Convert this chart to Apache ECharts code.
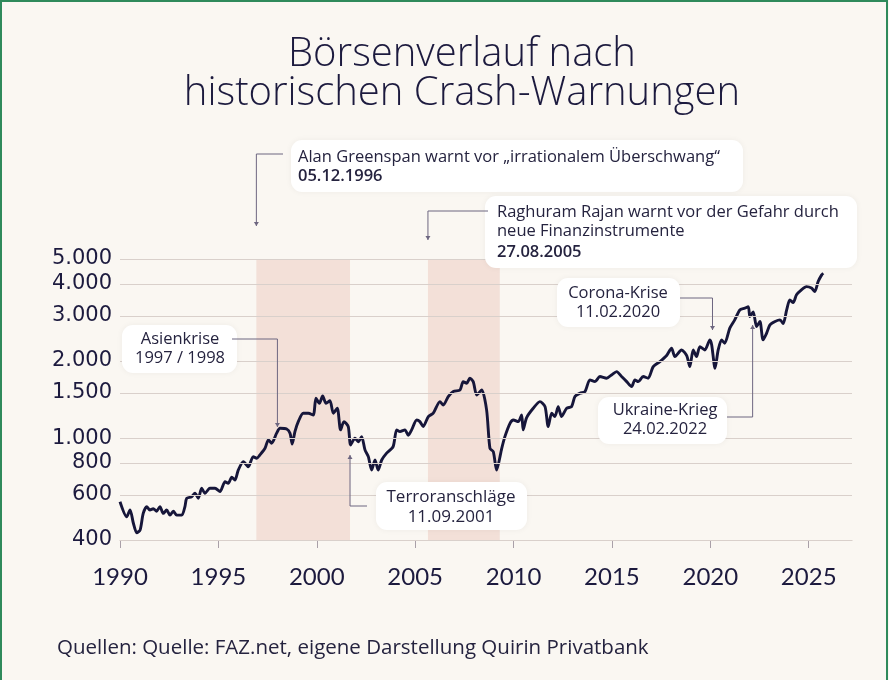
<!DOCTYPE html>
<html><head><meta charset="utf-8">
<script src="https://cdn.jsdelivr.net/npm/echarts@6/dist/echarts.min.js"></script>
<style>
html,body{margin:0;padding:0;background:#faf7f2;}
#c{width:889px;height:680px;}
</style></head><body><div id="c"></div>
<script>
// ---- data ----
const years = [1990.00,1990.34,1990.51,1990.68,1990.85,1991.02,1991.18,1991.36,1991.52,1991.69,1991.86,1992.03,1992.20,1992.37,1992.54,1992.71,1992.88,1993.14,1993.30,1993.39,1993.64,1993.81,1993.98,1994.15,1994.32,1994.57,1994.83,1995.08,1995.34,1995.50,1995.68,1995.84,1996.01,1996.27,1996.52,1996.77,1996.95,1997.11,1997.37,1997.54,1997.71,1997.96,1998.13,1998.47,1998.64,1998.75,1998.89,1999.06,1999.31,1999.57,1999.82,1999.96,2000.13,2000.30,2000.47,2000.67,2000.84,2001.04,2001.21,2001.38,2001.60,2001.72,2001.94,2002.11,2002.28,2002.45,2002.62,2002.79,2002.96,2003.12,2003.30,2003.55,2003.88,2004.06,2004.23,2004.48,2004.65,2004.82,2005.08,2005.24,2005.41,2005.67,2005.92,2006.26,2006.43,2006.68,2006.94,2007.28,2007.44,2007.62,2007.78,2007.95,2008.13,2008.38,2008.63,2008.80,2008.97,2009.14,2009.40,2009.56,2009.82,2009.99,2010.24,2010.41,2010.49,2010.66,2011.00,2011.34,2011.60,2011.76,2011.94,2012.10,2012.27,2012.44,2012.70,2012.95,2013.12,2013.37,2013.63,2013.88,2014.14,2014.39,2014.73,2014.98,2015.24,2015.49,2015.75,2016.00,2016.17,2016.34,2016.59,2016.84,2017.10,2017.44,2017.78,2018.03,2018.20,2018.54,2018.80,2018.96,2019.13,2019.30,2019.47,2019.72,2019.98,2020.07,2020.24,2020.40,2020.57,2020.73,2020.99,2021.24,2021.50,2021.75,2021.93,2022.01,2022.18,2022.35,2022.52,2022.68,2022.86,2023.03,2023.29,2023.54,2023.70,2023.88,2024.04,2024.21,2024.38,2024.63,2024.89,2025.14,2025.31,2025.48,2025.66,2025.74];
const values = [564,493,524,465,427,437,508,540,524,530,518,540,508,524,500,518,500,500,540,582,590,609,582,637,609,637,637,618,676,666,703,686,750,809,773,846,834,859,912,984,955,1045,1092,1085,1045,948,1060,1159,1250,1250,1230,1430,1367,1460,1367,1400,1250,1307,1076,1159,1109,940,998,968,1013,899,846,750,821,750,821,873,926,1076,1060,1076,1026,1076,1177,1159,1110,1213,1250,1388,1346,1452,1519,1541,1661,1636,1713,1661,1473,1541,1288,912,885,750,912,1013,1142,1177,1159,1230,1076,1200,1307,1388,1327,1109,1250,1213,1327,1213,1307,1327,1452,1495,1519,1687,1661,1738,1713,1764,1817,1738,1661,1588,1687,1661,1738,1713,1901,1989,2100,2244,2080,2208,2099,1901,2208,2080,2275,2208,2416,2310,1874,2208,2416,2345,2686,2892,3163,3213,3260,2980,3110,2725,2850,2416,2566,2766,2850,2892,2800,3163,3464,3380,3624,3791,3900,3850,3733,4084,4335,4400];
const yTicks = [400,600,800,1000,1500,2000,3000,4000,5000];
const xTicks = [1990,1995,2000,2005,2010,2015,2020,2025];
const warnPeriods = [[1996.93, 2001.69],[2005.65, 2009.3]];
const titleText = 'Börsenverlauf nach\nhistorischen Crash-Warnungen';
const sourceText = 'Quellen: Quelle: FAZ.net, eigene Darstellung Quirin Privatbank';

const NAVY = '#1c1a3e';
const FONT = '"Open Sans", Lato, sans-serif';
const AXFONT = '"DejaVu Sans", sans-serif';
function deFmt(v){ return v>=1000 ? Math.floor(v/1000)+'.'+String(v%1000).padStart(3,'0') : String(v); }

const chart = echarts.init(document.getElementById('c'), null, {renderer:'canvas'});
chart.setOption({
  backgroundColor:'#faf7f2',
  animation:false,
  title:{text:titleText,left:457,textAlign:'center',top:30,textStyle:{fontFamily:FONT,fontSize:40,fontWeight:300,lineHeight:39,color:NAVY}},
  grid:{left:120,right:37,top:259,bottom:140},
  xAxis:{type:'value',min:1990,max:2027.2,interval:5,
    axisLine:{lineStyle:{color:'#cdc4bf',width:1}},
    axisTick:{show:true,customValues:xTicks,length:8,lineStyle:{color:'#a9a0a8'}},
    axisLabel:{customValues:xTicks,formatter:v=>String(v),fontFamily:'Lato, sans-serif',fontSize:24,color:NAVY,margin:25},
    splitLine:{show:false}},
  yAxis:{type:'log',logBase:10,min:400,max:5000,axisLabel:{show:false},splitLine:{show:false},axisLine:{show:false},axisTick:{show:false}},
  series:[
    {type:'line',name:'grid',data:[],z:1,silent:true,
      markLine:{silent:true,symbol:['none','none'],
        lineStyle:{type:'solid',color:'#d9d0cb',width:1},
        label:{show:true,position:'start',distance:8,fontFamily:AXFONT,fontSize:21,color:NAVY,formatter:p=>deFmt(p.value)},
        data:yTicks.map(v=>({yAxis:v}))}},
    {type:'line',name:'index',z:3,showSymbol:false,smooth:0.25,
      data:years.map((y,i)=>[y,values[i]]),
      lineStyle:{color:'#16163a',width:2.9},
      markArea:{silent:true,itemStyle:{color:'#f3e0d8'},data:warnPeriods.map(p=>[{xAxis:p[0]},{xAxis:p[1]}])}}
  ]
});

// ---- annotations ----
function px(year,val){ return chart.convertToPixel({gridIndex:0},[year,val]); }
const LINEC = '#6d6680';
const g = [];
g.push({type:'rect',shape:{x:1,y:1,width:886,height:700},style:{fill:'none',stroke:'#2f8a5b',lineWidth:2},z:100,silent:true});
function box(x,y,w,h){ g.push({type:'rect',shape:{x,y,width:w,height:h,r:11},style:{fill:'#ffffff',shadowBlur:6,shadowColor:'rgba(0,0,0,0.05)'},z:50}); }
function txt(t,x,y,size,weight,align){ g.push({type:'text',style:{text:t,x,y,fill:'#25233f',font:(weight||'normal')+' '+size+'px '+FONT,align:align||'left',verticalAlign:'middle'},z:51}); }
function conn(points,dir){
  g.push({type:'polyline',shape:{points},style:{stroke:LINEC,lineWidth:1,fill:'none'},z:52});
  const t = points[points.length-1];
  const d = dir==='up' ? -1 : 1;
  g.push({type:'polygon',shape:{points:[[t[0]-2.5,t[1]-4*d],[t[0]+2.5,t[1]-4*d],[t[0],t[1]]]},style:{fill:LINEC},z:52});
}
// Greenspan
const xG = px(1996.93,1000)[0];
box(291,140,452,52);
txt('Alan Greenspan warnt vor \u201Eirrationalem \u00DCberschwang\u201C',298,157,16.5);
txt('05.12.1996',298,176,16.5,600);
conn([[283,154],[xG,154],[xG,226]],'down');
// Rajan
const xR = px(2005.65,1000)[0];
box(485,196,372,72);
txt('Raghuram Rajan warnt vor der Gefahr durch',497,212,16.5);
txt('neue Finanzinstrumente',497,231,16.5);
txt('27.08.2005',497,252,16.5,600);
conn([[488,211],[xR,211],[xR,240]],'down');
// Asienkrise
const xA = px(1998.0,1000)[0];
box(122,325,115,48);
txt('Asienkrise',180,339,16.5,'normal','center');
txt('1997 / 1998',180,358,16.5,'normal','center');
conn([[232,339],[xA,339],[xA,427]],'down');
// Terror
const xT = px(2001.69,1000)[0];
box(376,482,151,48);
txt('Terroranschläge',451,497,17,'normal','center');
txt('11.09.2001',451,517,17,'normal','center');
conn([[367,506],[xT,506],[xT,455]],'up');
// Corona
const xC = px(2020.11,1000)[0];
box(557,278,123,49);
txt('Corona-Krise',618,293,16.5,'normal','center');
txt('11.02.2020',618,312,16.5,'normal','center');
conn([[680,298],[xC,298],[xC,330]],'down');
// Ukraine
const xU = px(2022.15,1000)[0];
box(598,397,129,47);
txt('Ukraine-Krieg',665,410,16.5,'normal','center');
txt('24.02.2022',665,429,16.5,'normal','center');
conn([[727,417],[xU,417],[xU,325]],'up');
// source
txt(sourceText,57,648,20.5);
chart.setOption({graphic:{elements:g}});
</script></body></html>
